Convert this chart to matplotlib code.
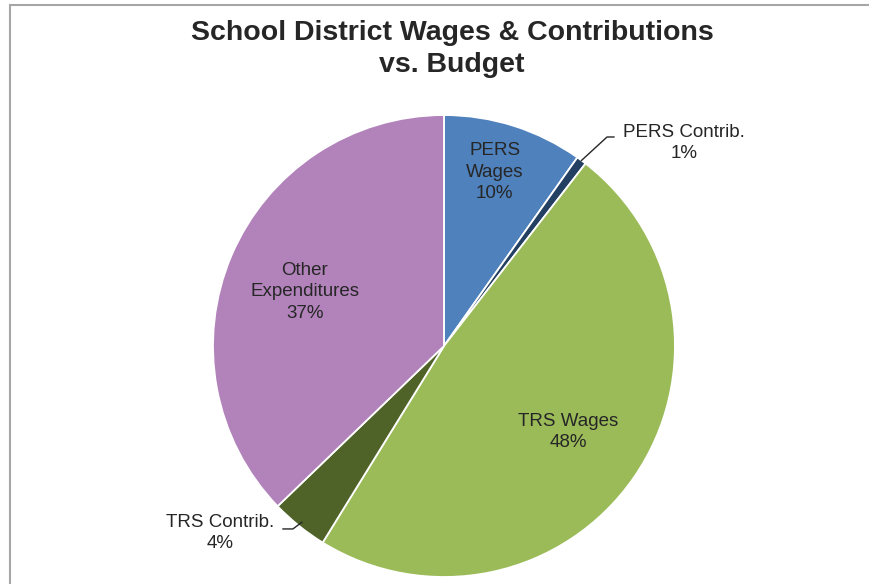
import numpy as np
import matplotlib
matplotlib.use('Agg')
import matplotlib.pyplot as plt
from matplotlib.patches import Rectangle

plt.rcParams['font.family'] = ['Liberation Sans', 'DejaVu Sans']

# data
labels = ['PERS\nWages', 'PERS Contrib.', 'TRS Wages', 'TRS Contrib.', 'Other\nExpenditures']
values = [9.8, 0.7, 48.3, 4.0, 37.2]
colors = ['#4F81BD', '#233F62', '#9BBB59', '#4F6228', '#B283BB']

fig = plt.figure(figsize=(8.69, 5.84), dpi=100)

# outer chart frame
fig.patches.append(Rectangle((10 / 869, -0.1), 1.2, 1 - 5.5 / 584 + 0.1,
                             transform=fig.transFigure, fill=False,
                             edgecolor='#A6A6A6', linewidth=1.5))

ax = fig.add_axes([0.2451, 0.012, 0.5316, 0.791])
wedges, _ = ax.pie(values, colors=colors, startangle=90, counterclock=False,
                   radius=1, wedgeprops=dict(edgecolor='white', linewidth=1.3))
ax.set_xlim(-1, 1)
ax.set_ylim(-1, 1)
ax.set_aspect('equal')
ax.axis('off')

pct = [f'{round(v)}%' for v in values]
fs = 13.5
ls = 1.32

# labels inside slices
inside = {0: (0.22, 0.753), 2: (0.537, -0.372), 4: (-0.602, 0.234)}
for i, (x, y) in inside.items():
    ax.text(x, y, f'{labels[i]}\n{pct[i]}', ha='center', va='center',
            fontsize=fs, color='#262626', linespacing=ls)

# outside labels with leader lines
def anchor(w):
    a = np.deg2rad((w.theta1 + w.theta2) / 2)
    return np.cos(a), np.sin(a)

ax0, ay0 = anchor(wedges[1])
ax.plot([ax0, 0.706, 0.736], [ay0, 0.905, 0.905], color='#262626', lw=1, clip_on=False)
ax.text(1.039, 0.879, f'{labels[1]}\n{pct[1]}', ha='center', va='center',
        fontsize=fs, color='#262626', linespacing=ls)

ax3, ay3 = anchor(wedges[3])
ax.plot([-0.697, -0.654, ax3 * 0.98], [-0.792, -0.792, ay3 * 0.98],
        color='#262626', lw=1, clip_on=False)
ax.text(-0.97, -0.81, f'{labels[3]}\n{pct[3]}', ha='center', va='center',
        fontsize=fs, color='#262626', linespacing=ls)

fig.text(452 / 869, 1 - 49 / 584, 'School District Wages & Contributions\nvs. Budget',
         ha='center', va='center', fontsize=20.5, fontweight='bold',
         color='#262626', linespacing=1.25)

fig.savefig('out.png', dpi=100)
